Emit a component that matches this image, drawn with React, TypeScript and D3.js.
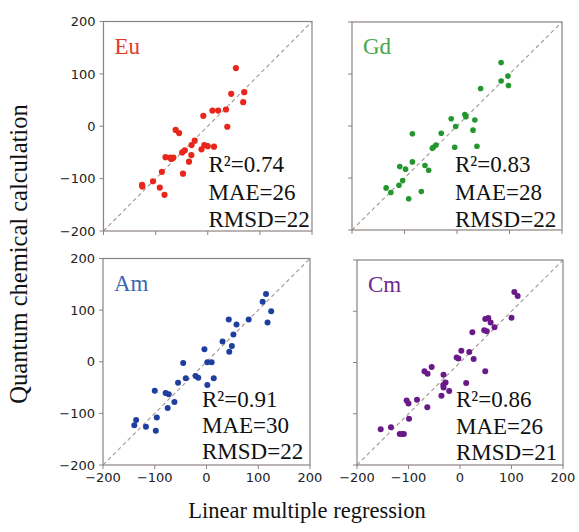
import React from "react";
import * as d3 from "d3";

// Element names, one panel each
const elements = ["Eu", "Gd", "Am", "Cm"];

// Linear multiple regression (x) vs quantum chemical calculation (y), kJ/mol
const euX = [54, 45, 70, 68, 35, 20, 9, -8.5, 37.5, -61.6, -55, -25, -31, -6.6, 0, 12, -12, -44, -49, -31.5, -81, -72, -66, -70, -36, -88, -47.5, -105, -126, -125.5, -92, -83];
const euY = [111, 62, 65, 46, 32, 30, 30, 20, -1, -7, -13, -27.5, -36, -36, -38, -39, -44, -46, -50, -55, -59, -60, -60, -62.5, -67.6, -87, -90.5, -105, -112, -115, -117, -131];

const gdX = [84, 97, 84, 98, 45, 15, 17, -11, 34, -2.5, 30.5, -85, -30, -40, -45, -47, -4.4, 38, -85, -61, -109, -98, -54, -103.5, -110.5, -135, -126, -68, -92];
const gdY = [122, 96, 86.5, 78, 72, 22, 18, 14, 11.5, -1, -8, -15, -14, -36.5, -41, -43, -41, -39, -69, -76, -78, -83, -85, -105, -114, -119, -128, -126, -140];

const amX = [115, 108.5, 125, 118, 43, 81.5, 58, 52, 31, 49, 44, -4, 1.6, 10, -45, -21, -16, -40, 14, -55, 1.6, -100, -79, -73, -62, -75, -96, -136, -139.5, -117, -98];
const amY = [131, 116, 98, 76, 82, 82, 72, 53, 39, 30.5, 19.5, 24, -1, -1, -2.5, -27.6, -31, -32, -32, -40.5, -45, -56, -60.6, -63, -78, -89.6, -108, -113, -123, -126, -133.5];

const cmX = [105.5, 112, 100, 49, 55, 59.5, 67, 47, 52, 24, 2.6, 18, -6.5, -3, 26.5, -55, -69, -63, 49, -32, -28, -32.4, -32, 12, -21, -36, -83.5, -103.6, -100, -63.5, -99, -154, -134, -117, -109, -112];
const cmY = [137.6, 130, 87.5, 85, 87, 78, 69, 63, 61, 59, 23, 20.5, 10, 8, 7, -9, -17, -22, -17, -24, -39, -44, -49, -40, -55.6, -65, -72.5, -74, -80, -87.5, -109.6, -130.4, -126.5, -139.5, -139.5, -139.5];

// Fit statistics per element
const r2Values = ["0.74", "0.83", "0.91", "0.86"];
const maeValues = ["26", "28", "30", "26"];
const rmsdValues = ["22", "22", "22", "21"];

// Axis ticks
const tickValues = [-200, -100, 0, 100, 200];
const domain: [number, number] = [-200, 200];

const seriesX = [euX, gdX, amX, cmX];
const seriesY = [euY, gdY, amY, cmY];

// Panel frames and styling
const panels = [
  { x0: 103.5, x1: 312, y0: 21.5, y1: 231, showX: false, showY: true, statDx: 105, statDy: [-59, -31, -4] },
  { x0: 352, x1: 562, y0: 22, y1: 230, showX: false, showY: false, statDx: 103, statDy: [-58.3, -30, -3.3] },
  { x0: 103, x1: 310, y0: 258.5, y1: 465, showX: true, showY: true, statDx: 99, statDy: [-58.3, -31.7, -5.7] },
  { x0: 357, x1: 563, y0: 260, y1: 465, showX: true, showY: false, statDx: 99, statDy: [-57.7, -31, -5] },
];
const dotColors = ["#e8261c", "#23962e", "#1e3f9e", "#6a1a88"];
const labelColors = ["#e5392c", "#4aa64a", "#3a68b0", "#6c2b8c"];
const dotRadius = [3.1, 2.8, 3, 3];

const frameColor = "#8c8480";
const serif = "'Liberation Serif', 'Times New Roman', serif";
const sans = "'DejaVu Sans', sans-serif";

function Panel({ i }: { i: number }) {
  const p = panels[i];
  const x = d3.scaleLinear().domain(domain).range([p.x0, p.x1]);
  const y = d3.scaleLinear().domain(domain).range([p.y1, p.y0]);
  const xs = seriesX[i];
  const ys = seriesY[i];
  const diag = d3.line<number>().x((v) => x(v)).y((v) => y(v))(domain) || "";
  const statLines = [`R²=${r2Values[i]}`, `MAE=${maeValues[i]}`, `RMSD=${rmsdValues[i]}`];
  return (
    <g>
      <path d={diag} stroke="#a39791" strokeWidth={1.1} strokeDasharray="4,3" fill="none" />
      {xs.map((v, k) => (
        <circle key={k} cx={x(v)} cy={y(ys[k])} r={dotRadius[i]} fill={dotColors[i]} />
      ))}
      <rect x={p.x0} y={p.y0} width={p.x1 - p.x0} height={p.y1 - p.y0} fill="none" stroke={frameColor} strokeWidth={1.2} />
      {tickValues.map((t) => (
        <g key={"x" + t}>
          <line x1={x(t)} x2={x(t)} y1={p.y1} y2={p.y1 + 4} stroke={frameColor} strokeWidth={1} />
          {p.showX && (
            <text x={x(t)} y={p.y1 + 17} textAnchor="middle" fontFamily={sans} fontSize={13} fill="#222">
              {t < 0 ? "\u2212" + Math.abs(t) : String(t)}
            </text>
          )}
        </g>
      ))}
      {tickValues.map((t) => (
        <g key={"y" + t}>
          <line x1={p.x0 - 4} x2={p.x0} y1={y(t)} y2={y(t)} stroke={frameColor} strokeWidth={1} />
          {p.showY && (
            <text x={p.x0 - 8} y={y(t)} dy="0.36em" textAnchor="end" fontFamily={sans} fontSize={13} fill="#222">
              {t < 0 ? "\u2212" + Math.abs(t) : String(t)}
            </text>
          )}
        </g>
      ))}
      <text x={p.x0 + 11} y={p.y0 + 32} fontFamily={serif} fontSize={23} fill={labelColors[i]}>
        {elements[i]}
      </text>
      {statLines.map((s, k) => (
        <text key={k} x={p.x0 + p.statDx} y={p.y1 + p.statDy[k]} fontFamily={serif} fontSize={23} fill="#111">
          {s}
        </text>
      ))}
    </g>
  );
}

export default function App() {
  return (
    <svg
      width={579}
      height={532}
      style={{ position: "absolute", left: 0, top: 0, display: "block", background: "#fff" }}
    >
      <rect width={579} height={532} fill="#fff" />
      {elements.map((_, i) => (
        <Panel key={i} i={i} />
      ))}
      <text
        transform="translate(27,254) rotate(-90)"
        textAnchor="middle"
        fontFamily={serif}
        fontSize={24.5}
        fill="#111"
      >
        Quantum chemical calculation
      </text>
      <text x={307} y={518} textAnchor="middle" fontFamily={serif} fontSize={22.5} fill="#111">
        Linear multiple regression
      </text>
    </svg>
  );
}
